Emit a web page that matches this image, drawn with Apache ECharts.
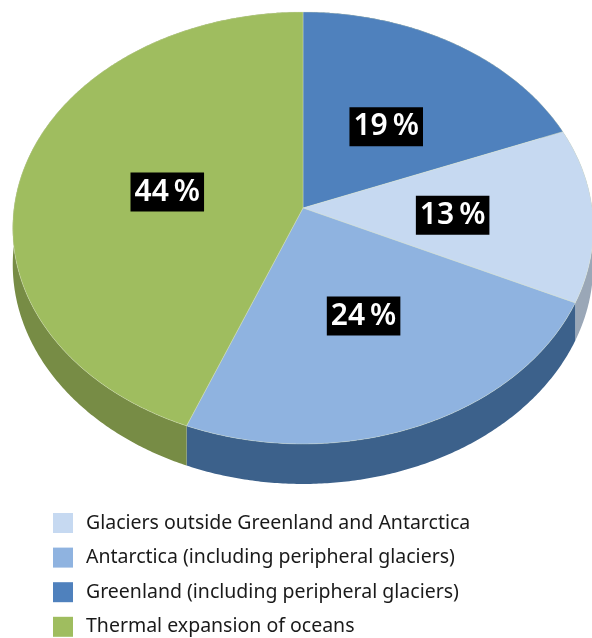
<!DOCTYPE html>
<html><head><meta charset="utf-8">
<script src="https://cdn.jsdelivr.net/npm/echarts@6/dist/echarts.min.js"></script>
<style>html,body{margin:0;padding:0;background:#fff}#c{width:592px;height:638px}</style>
</head><body><div id="c"></div>
<script>
// ---- data ----
const categories = ['Greenland (including peripheral glaciers)', 'Glaciers outside Greenland and Antarctica', 'Antarctica (including peripheral glaciers)', 'Thermal expansion of oceans'];
const values = [19, 13, 24, 44];
const legendOrder = ['Glaciers outside Greenland and Antarctica', 'Antarctica (including peripheral glaciers)', 'Greenland (including peripheral glaciers)', 'Thermal expansion of oceans'];
// ---- styles ----
const topColors = ['#4f81bd', '#c6d9f1', '#8fb3e0', '#9fbd5f'];
const sideColors = ['#3a5f8c', '#9aa7b7', '#3c618b', '#778c45'];

// perspective ellipse layout
const CX = 303, CY = 208, RX = 289, RY = 214.1, K = 0.0926, T = 36.3, LABEL_R = 0.5;
function proj(deg, r, drop) {
  const t = deg * Math.PI / 180;
  const u = Math.sin(t), v = Math.cos(t);
  const d = 1 + K * v * r;
  return [CX + RX * r * u / d, CY - RY * r * v / d + drop / d];
}
const total = values.reduce((a, b) => a + b, 0);
const starts = [];
values.reduce((acc, v, i) => { starts[i] = acc; return acc + v; }, 0);

function renderItem(params, api) {
  const i = params.seriesIndex;
  const val = api.value(0);
  const a0 = starts[i] / total * 360;
  const a1 = (starts[i] + val) / total * 360;
  const n = Math.max(4, Math.ceil((a1 - a0) * 2));
  const topArc = [], botArc = [];
  for (let k = 0; k <= n; k++) {
    const a = a0 + (a1 - a0) * k / n;
    topArc.push(proj(a, 1, 0));
    botArc.push(proj(a, 1, T));
  }
  const side = topArc.concat(botArc.slice().reverse());
  const top = [[CX, CY]].concat(topArc);
  const mid = (a0 + a1) / 2;
  const lp = proj(mid, LABEL_R, 0);
  return {
    type: 'group',
    children: [
      { type: 'polygon', z2: 1, shape: { points: side }, style: { fill: sideColors[i] } },
      { type: 'polygon', z2: 5, shape: { points: top }, style: { fill: topColors[i], stroke: 'rgba(220,230,200,0.6)', lineWidth: 0.6 } },
      { type: 'text', z2: 10, x: lp[0] + 5, y: lp[1] + 4,
        style: { text: val + '\u2009%', fill: '#ffffff', backgroundColor: '#000000',
          padding: [6, 4, 3, 4], fontFamily: 'Noto Sans', fontWeight: 600, fontSize: 30,
          align: 'center', verticalAlign: 'middle' } }
    ]
  };
}

const chart = echarts.init(document.getElementById('c'), null, { renderer: 'canvas' });
chart.setOption({
  animation: false,
  backgroundColor: '#ffffff',
  legend: {
    data: legendOrder, orient: 'vertical', left: 53, top: 513, height: 140,
    itemWidth: 20, itemHeight: 20, itemGap: 14.6, icon: 'rect', padding: 0,
    selectedMode: false,
    textStyle: { fontFamily: 'Noto Sans', fontSize: 19.5, color: '#1a1a1a', padding: [0, 0, 0, 8] }
  },
  series: categories.map((name, i) => ({
    type: 'custom', name: name, coordinateSystem: 'none', silent: true,
    itemStyle: { color: topColors[i] },
    data: [[values[i]]],
    renderItem: renderItem
  }))
});
</script></body></html>
